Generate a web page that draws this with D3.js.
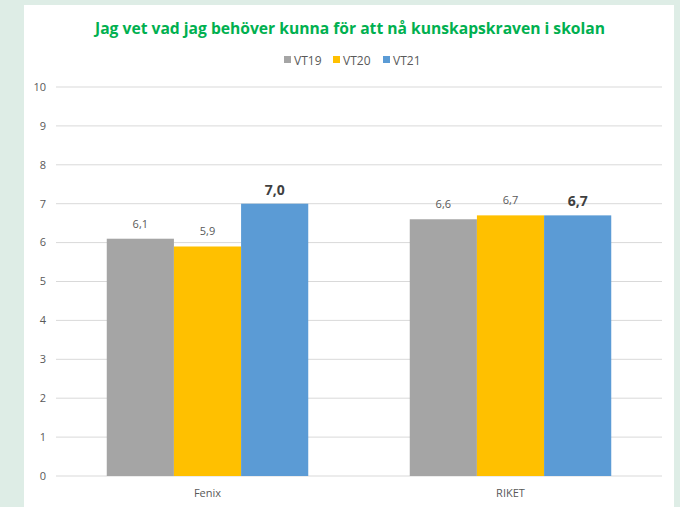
<!DOCTYPE html>
<html lang="sv">
<head>
    <meta charset="UTF-8">
    <title>Jag vet vad jag behöver kunna</title>
    <script src="https://d3js.org/d3.v7.min.js"></script>
    <style>
        body { margin: 0; background: #deede6; }
        svg { display: block; }
        .tick-label { font: 11px "Open Sans", sans-serif; fill: #595959; }
        .legend text { font: 12px "Open Sans", sans-serif; fill: #595959; }
    </style>
</head>
<body>
<div id="chart"></div>
<script>
    const categories = ["Fenix", "RIKET"];
    const seriesNames = ["VT19", "VT20", "VT21"];
    const vt19 = [6.1, 6.6];
    const vt20 = [5.9, 6.7];
    const vt21 = [7.0, 6.7];
    const yTicks = [0, 1, 2, 3, 4, 5, 6, 7, 8, 9, 10];
    const colors = ["#a5a5a5", "#ffc000", "#5b9bd5"];

    const values = [vt19, vt20, vt21];

    const W = 680, H = 507;
    const svg = d3.select("#chart").append("svg")
        .attr("width", W)
        .attr("height", H);

    // white chart panel
    svg.append("rect")
        .attr("x", 24).attr("y", 5)
        .attr("width", 650).attr("height", H)
        .attr("fill", "#fff");

    const plot = { left: 56, right: 662, top: 87, bottom: 476 };

    const x = d3.scaleBand()
        .domain(categories)
        .range([plot.left, plot.right])
        .paddingInner(0.335)
        .paddingOuter(0.1675);

    const x1 = d3.scaleBand()
        .domain(seriesNames)
        .range([0, x.bandwidth()]);

    const y = d3.scaleLinear()
        .domain([0, 10])
        .range([plot.bottom, plot.top]);

    // gridlines + y labels
    const grid = svg.append("g");
    grid.selectAll("line").data(yTicks).enter().append("line")
        .attr("x1", plot.left).attr("x2", plot.right)
        .attr("y1", d => y(d)).attr("y2", d => y(d))
        .attr("stroke", "#d9d9d9")
        .attr("stroke-width", 1);

    grid.selectAll("text").data(yTicks).enter().append("text")
        .attr("class", "tick-label")
        .attr("x", 46)
        .attr("y", d => y(d))
        .attr("dy", "0.35em")
        .attr("text-anchor", "end")
        .text(d => d);

    // bars
    seriesNames.forEach((s, i) => {
        const g = svg.append("g");
        g.selectAll("rect").data(categories).enter().append("rect")
            .attr("x", (c) => x(c) + x1(s))
            .attr("width", x1.bandwidth())
            .attr("y", (c, j) => y(values[i][j]))
            .attr("height", (c, j) => y(0) - y(values[i][j]))
            .attr("fill", colors[i]);

        g.selectAll("text").data(categories).enter().append("text")
            .attr("x", c => x(c) + x1(s) + x1.bandwidth() / 2)
            .attr("y", (c, j) => y(values[i][j]) - (i === 2 ? 9 : 11))
            .attr("text-anchor", "middle")
            .style("font-family", "'Open Sans', sans-serif")
            .style("font-size", i === 2 ? "14px" : "11px")
            .style("font-weight", i === 2 ? "bold" : "normal")
            .style("fill", i === 2 ? "#404040" : "#595959")
            .text((c, j) => d3.format(".1f")(values[i][j]).replace(".", ","));
    });

    // category labels
    svg.append("g").selectAll("text").data(categories).enter().append("text")
        .attr("class", "tick-label")
        .attr("x", c => x(c) + x.bandwidth() / 2)
        .attr("y", 497)
        .attr("text-anchor", "middle")
        .text(c => c);

    // title
    svg.append("text")
        .attr("x", 350)
        .attr("y", 34)
        .attr("text-anchor", "middle")
        .attr("textLength", 510)
        .attr("lengthAdjust", "spacingAndGlyphs")
        .style("font-family", "'Open Sans', sans-serif")
        .style("font-size", "16px")
        .style("font-weight", "bold")
        .style("fill", "#00b050")
        .text("Jag vet vad jag behöver kunna för att nå kunskapskraven i skolan");

    // legend
    const legend = svg.append("g").attr("class", "legend");
    const legX = [284, 333, 383];
    seriesNames.forEach((s, i) => {
        legend.append("rect")
            .attr("x", legX[i]).attr("y", 56)
            .attr("width", 7).attr("height", 7)
            .attr("fill", colors[i]);
        legend.append("text")
            .attr("x", legX[i] + 10).attr("y", 64.5)
            .text(s);
    });
</script>
</body>
</html>
